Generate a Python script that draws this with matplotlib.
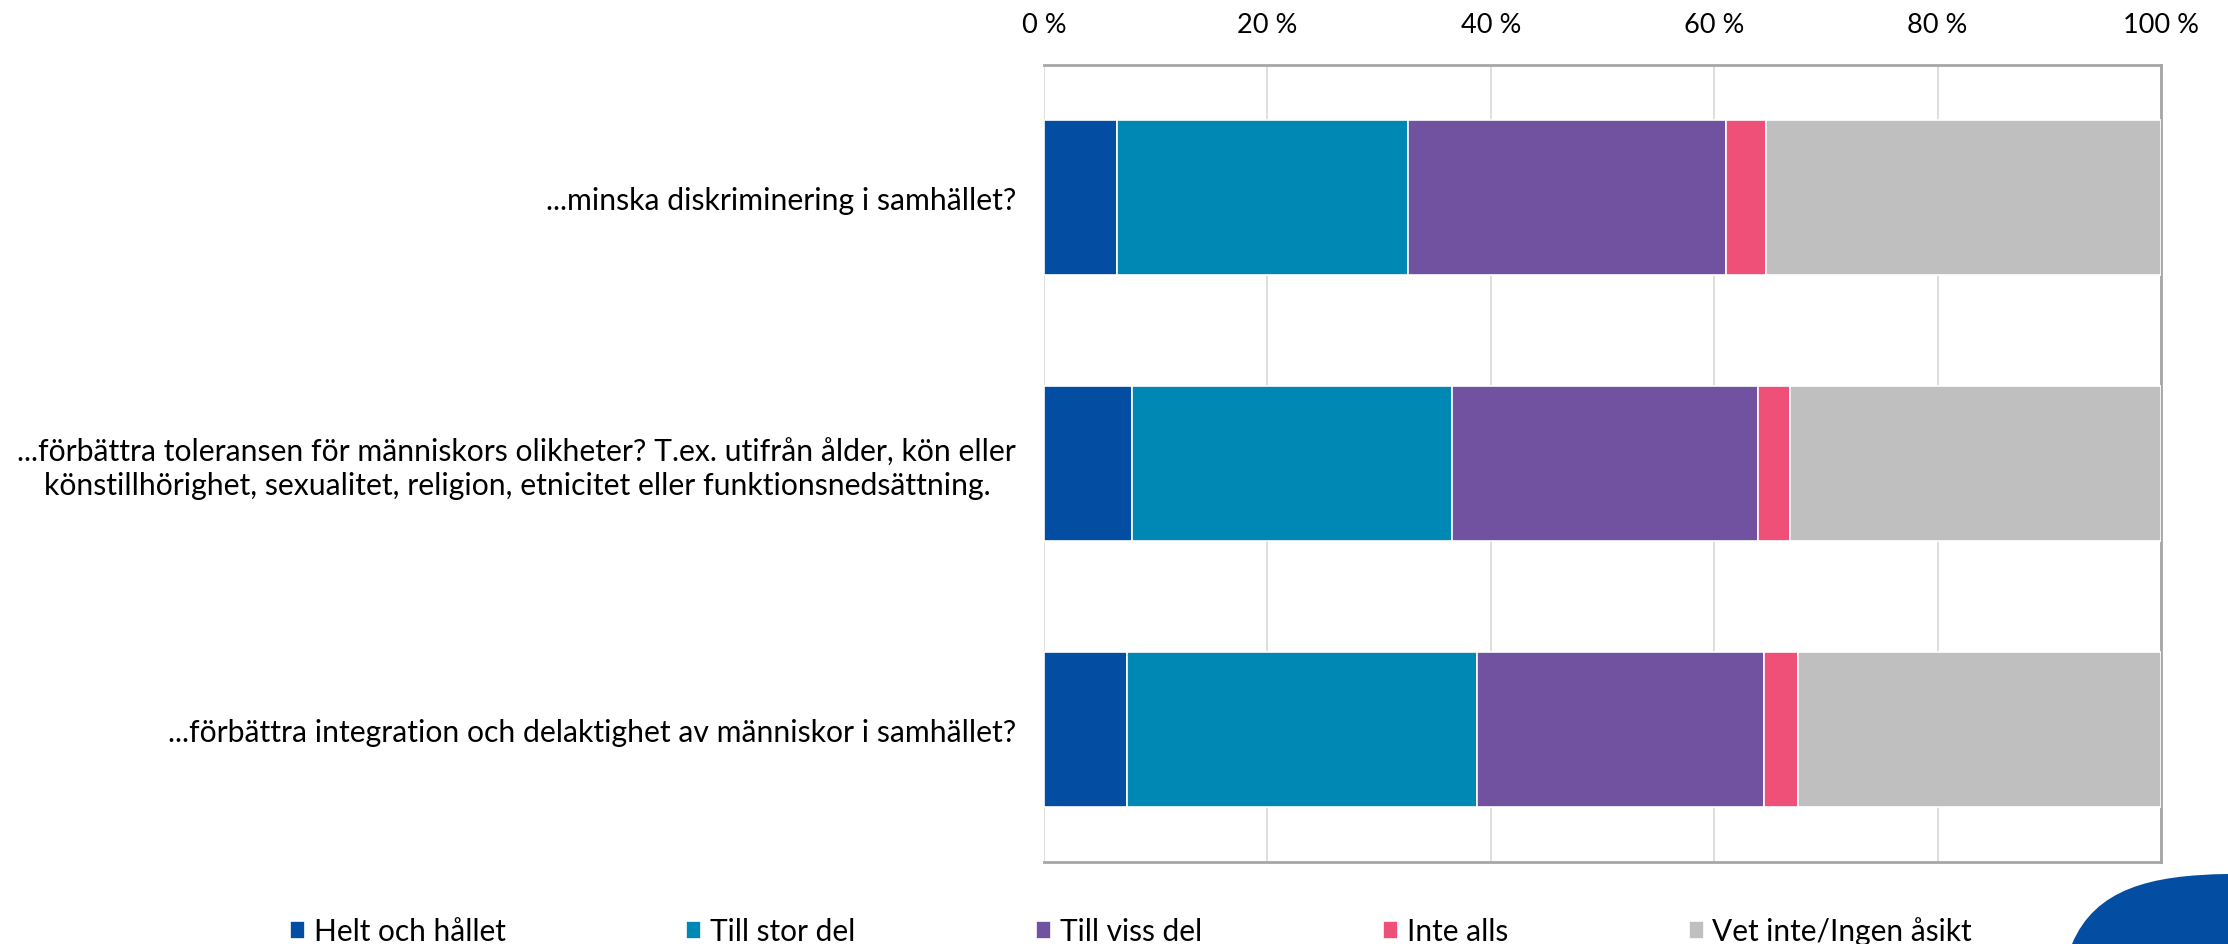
import matplotlib
matplotlib.use("Agg")
import matplotlib.pyplot as plt
from matplotlib.path import Path
from matplotlib.patches import PathPatch

plt.rcParams['font.family'] = ['Lato', 'DejaVu Sans']

questions = [
    "...minska diskriminering i samhället?",
    "...förbättra toleransen för människors olikheter? T.ex. utifrån ålder, kön eller\n"
    "könstillhörighet, sexualitet, religion, etnicitet eller funktionsnedsättning.",
    "...förbättra integration och delaktighet av människor i samhället?",
]
answers = ["Helt och hållet", "Till stor del", "Till viss del", "Inte alls", "Vet inte/Ingen åsikt"]
helt = [6.5, 7.9, 7.4]
stor = [26.1, 28.6, 31.4]
viss = [28.5, 27.4, 25.7]
inte = [3.5, 2.9, 3.0]
vet = [35.4, 33.2, 32.5]
colors = ["#034ea2", "#0088b5", "#7052a0", "#ef5078", "#bfbfbf"]
ticks = [0, 20, 40, 60, 80, 100]
tick_labels = ["0 %", "20 %", "40 %", "60 %", "80 %", "100 %"]

W, H = 2228, 945
fig = plt.figure(figsize=(W / 100, H / 100), dpi=100)
ax = fig.add_axes([1044 / W, 82 / H, 1117 / W, 797 / H])

y = list(range(len(questions)))
left = [0] * len(questions)
for vals, name, c in zip([helt, stor, viss, inte, vet], answers, colors):
    ax.barh(y, vals, left=left, height=0.583, color=c, edgecolor="white",
            linewidth=1.2, label=name, zorder=3)
    left = [l + v for l, v in zip(left, vals)]

ax.set_xlim(0, 100)
ax.set_ylim(2.5, -0.5)
ax.xaxis.tick_top()
ax.set_xticks(ticks)
ax.set_xticklabels(tick_labels, fontsize=19.5)
ax.tick_params(axis="x", length=0, pad=20)
ax.tick_params(axis="y", length=0, pad=20)
ax.set_yticks(y)
ax.set_yticklabels(questions, fontsize=21.7, ha="right", multialignment="center")
ax.grid(axis="x", color="#d9d9d9", linewidth=1.2, zorder=0)
for side in ["top", "right", "bottom"]:
    ax.spines[side].set_color("#a6a6a6")
    ax.spines[side].set_linewidth(2)
ax.spines["left"].set_visible(False)

fig.legend(loc="center", bbox_to_anchor=(1131 / W, 1 - 932 / H), ncol=5,
           frameon=False, fontsize=21.5, handlelength=0.5, handleheight=0.55,
           handletextpad=0.3, columnspacing=6.05)

# decorative blue corner shape
verts = [(2072, 945), (2095, 890), (2150, 876), (2228, 875), (2228, 945), (2072, 945)]
codes = [Path.MOVETO, Path.CURVE4, Path.CURVE4, Path.CURVE4, Path.LINETO, Path.CLOSEPOLY]
verts = [(vx / W, 1 - vy / H) for vx, vy in verts]
fig.patches.append(PathPatch(Path(verts, codes), transform=fig.transFigure,
                             facecolor="#034ea2", edgecolor="none"))

fig.savefig("out.png", dpi=100)
